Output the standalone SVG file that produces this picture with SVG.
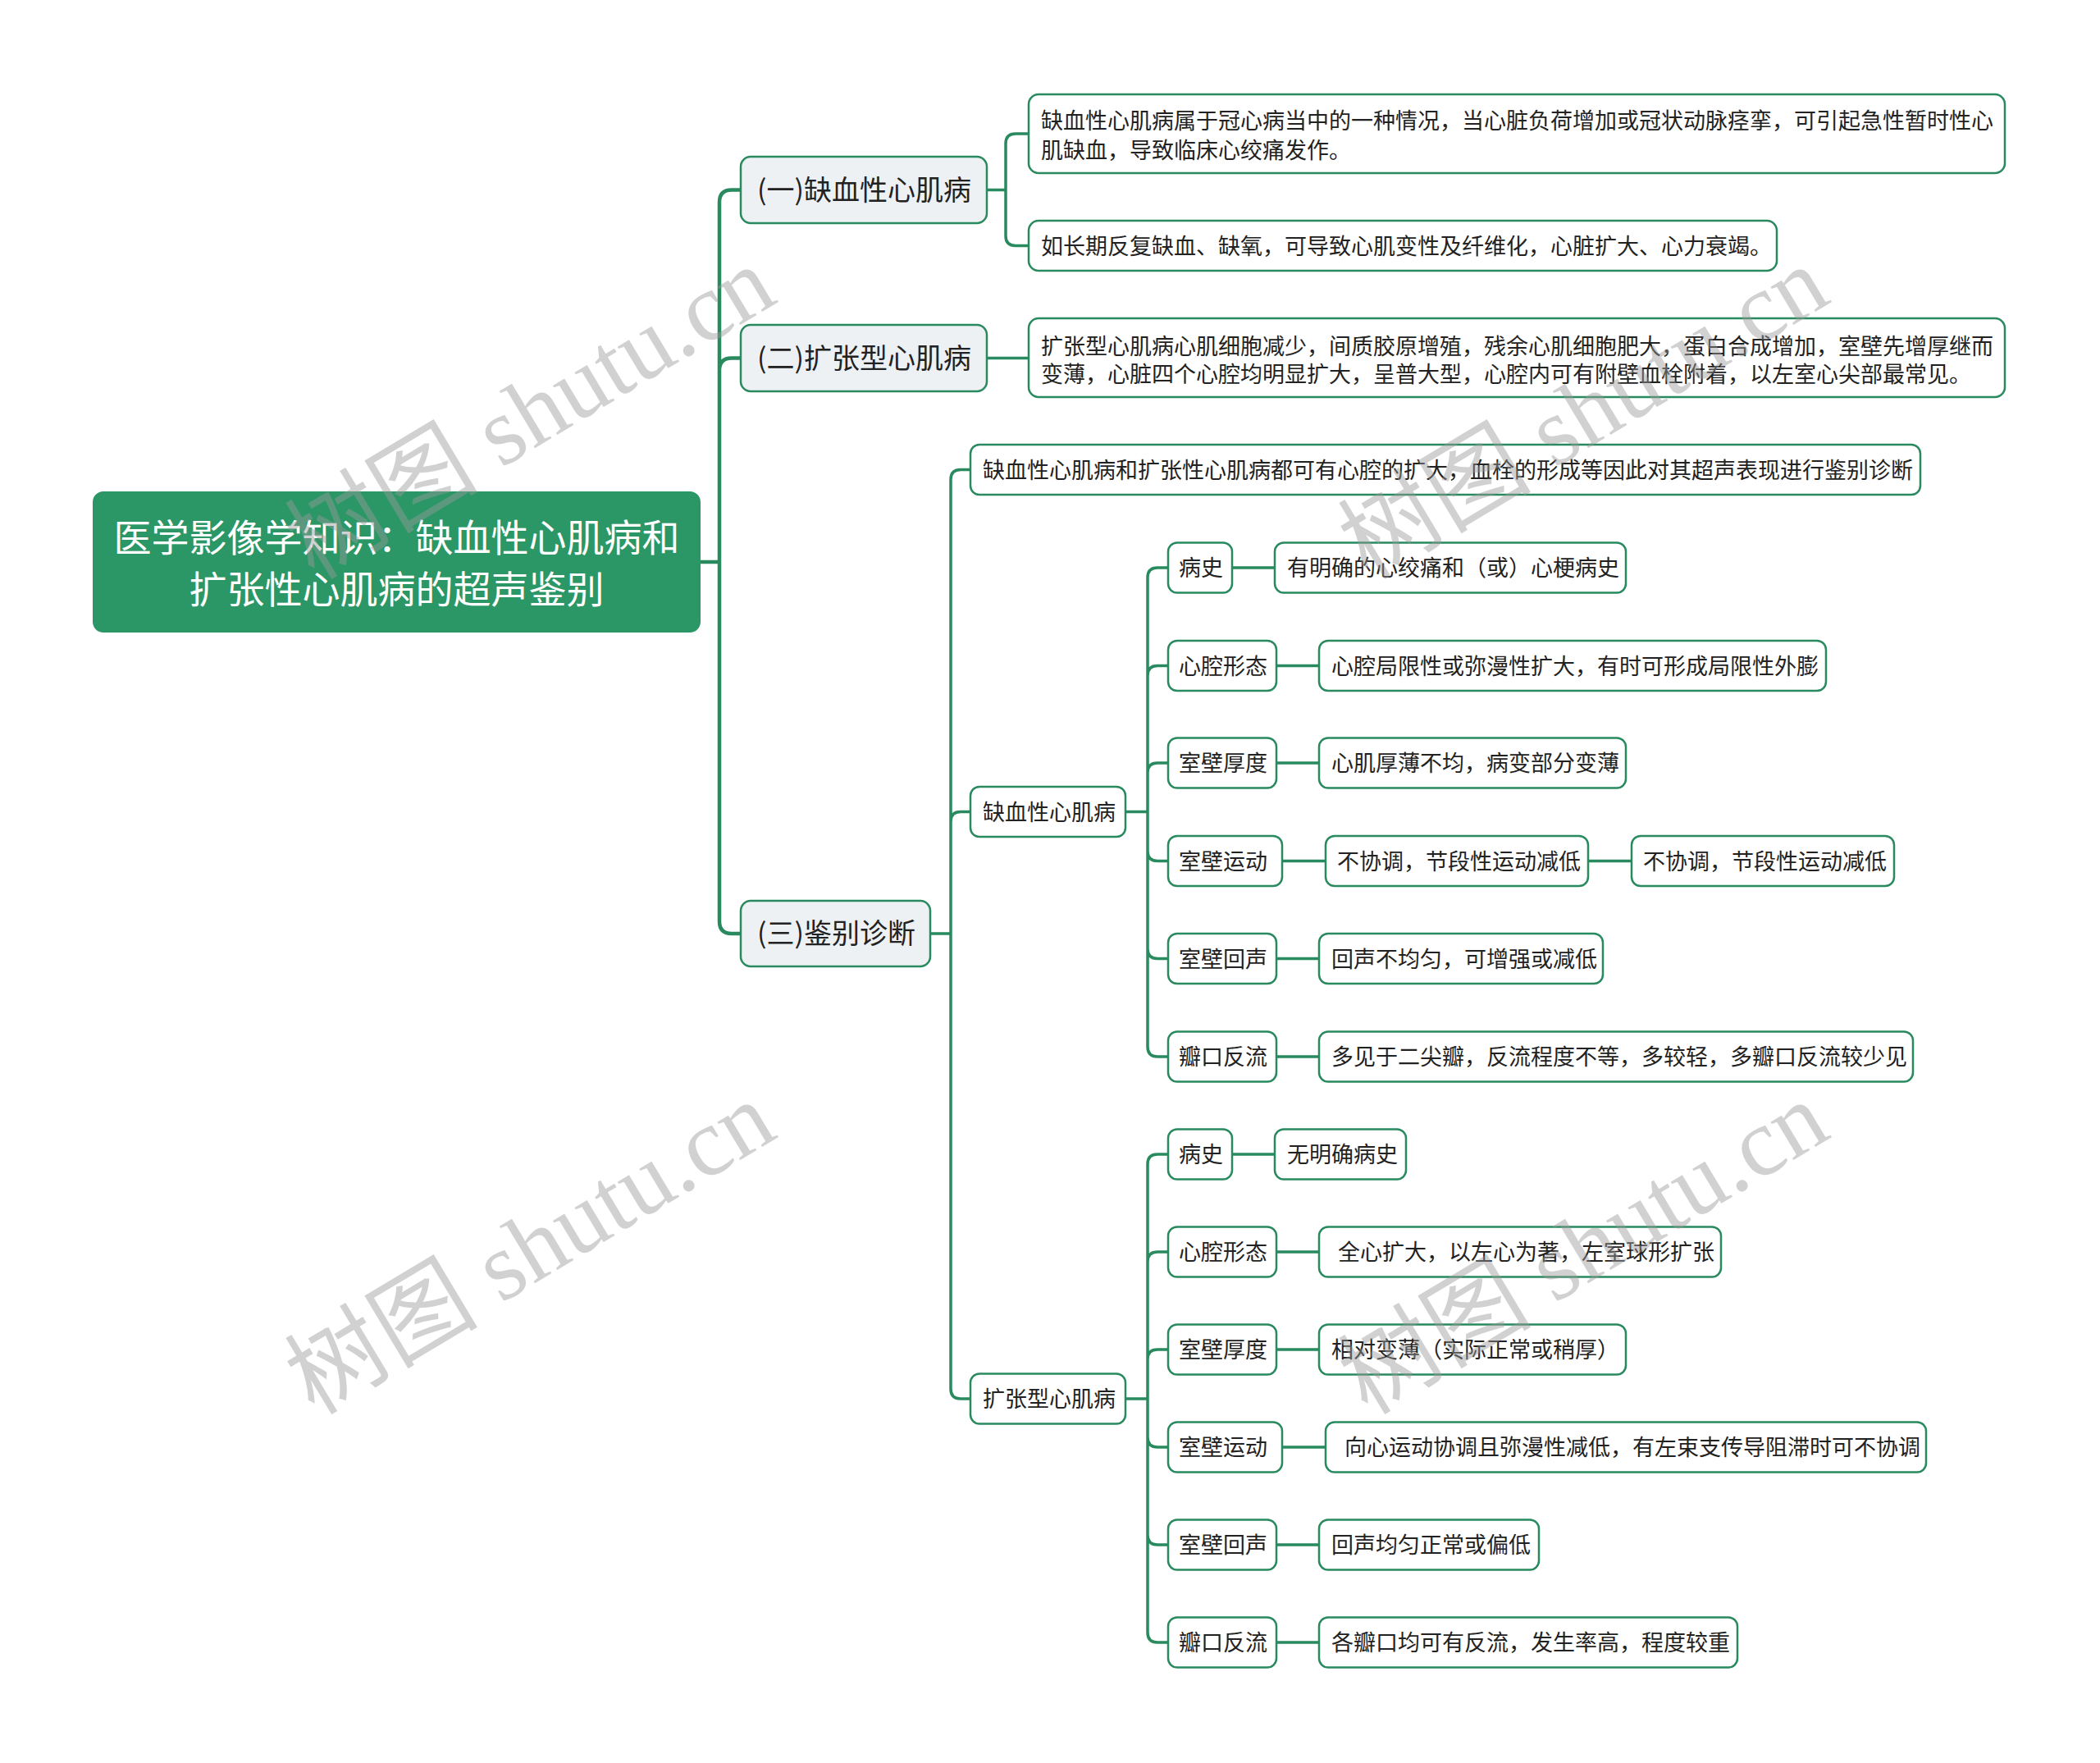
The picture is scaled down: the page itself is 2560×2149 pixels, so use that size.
<svg xmlns="http://www.w3.org/2000/svg" width="2560" height="2149" viewBox="0 0 2560 2149">
<style>
.bg{fill:#ffffff}
.ln{fill:none;stroke:#2a8a5f;stroke-width:3.5;stroke-linecap:round}
.trunk{fill:none;stroke:#2a8a5f;stroke-width:4.5;stroke-linecap:round}
.root{fill:#2b9766;stroke:#2b9766;stroke-width:2}
.l1{fill:#eef1f4;stroke:#2a8a5f;stroke-width:2.5}
.nd{fill:#ffffff;stroke:#2a8a5f;stroke-width:2.5}
.t{font-family:"Noto Sans CJK SC","Noto Sans",sans-serif;fill:#222222;font-size:27px}
.t1{font-family:"Noto Sans CJK SC","Noto Sans",sans-serif;fill:#222222;font-size:34px}
.tr{font-family:"Noto Sans CJK SC","Noto Sans",sans-serif;fill:#ffffff;font-size:46px}
.wm{font-family:"Liberation Serif","Noto Sans CJK SC",serif;font-size:118px;fill:#9a9a9a;fill-opacity:0.45}
</style>
<rect class="bg" x="0" y="0" width="2560" height="2149"/>

<g id="connectors">
<path class="trunk" d="M853,685 H877 M877,685 V246.5 Q877,231.5 892,231.5 H903 M877,685 V451.5 Q877,436.5 892,436.5 H903 M877,685 V1123 Q877,1138 892,1138 H903"/>
<path class="ln" d="M1203,231.5 H1226 M1226,231.5 V175 Q1226,163 1238,163 H1254 M1226,231.5 V287.5 Q1226,299.5 1238,299.5 H1254"/>
<path class="ln" d="M1203,436.5 H1254"/>
<path class="ln" d="M1134,1138 H1159 M1159,1138 V584.5 Q1159,572.5 1171,572.5 H1183 M1159,1138 V1001.5 Q1159,989.5 1171,989.5 H1183 M1159,1138 V1693 Q1159,1705 1171,1705 H1183"/>
<path class="ln" d="M1372,989.5 H1399 M1399,989.5 V704 Q1399,692 1411,692 H1424 M1399,989.5 V823.5 Q1399,811.5 1411,811.5 H1424 M1399,989.5 V942 Q1399,930 1411,930 H1424 M1399,989.5 V1037.5 Q1399,1049.5 1411,1049.5 H1424 M1399,989.5 V1156.5 Q1399,1168.5 1411,1168.5 H1424 M1399,989.5 V1276 Q1399,1288 1411,1288 H1424"/>
<path class="ln" d="M1502,692 H1554 M1556,811.5 H1608 M1556,930 H1608 M1563,1049.5 H1616 M1936,1049.5 H1989 M1556,1168.5 H1608 M1556,1288 H1608"/>
<path class="ln" d="M1372,1705 H1399 M1399,1705 V1419 Q1399,1407 1411,1407 H1424 M1399,1705 V1538 Q1399,1526 1411,1526 H1424 M1399,1705 V1657 Q1399,1645 1411,1645 H1424 M1399,1705 V1752 Q1399,1764 1411,1764 H1424 M1399,1705 V1871 Q1399,1883 1411,1883 H1424 M1399,1705 V1990 Q1399,2002 1411,2002 H1424"/>
<path class="ln" d="M1502,1407 H1554 M1556,1526 H1608 M1556,1645 H1608 M1563,1764 H1616 M1556,1883 H1608 M1556,2002 H1608"/>
</g>

<g id="root">
<rect class="root" x="114" y="600" width="739" height="170" rx="12"/>
<text class="tr" x="483.5" y="672" text-anchor="middle">医学影像学知识：缺血性心肌病和</text>
<text class="tr" x="483.5" y="735" text-anchor="middle">扩张性心肌病的超声鉴别</text>
</g>

<g id="n1">
<rect class="l1" x="903" y="191" width="300" height="81" rx="12"/>
<text class="t1" x="923" y="244">(一)缺血性心肌病</text>
</g>
<g id="n1a">
<rect class="nd" x="1254" y="115" width="1190" height="96" rx="12"/>
<text class="t" x="1269" y="157">缺血性心肌病属于冠心病当中的一种情况，当心脏负荷增加或冠状动脉痉挛，可引起急性暂时性心</text>
<text class="t" x="1269" y="193">肌缺血，导致临床心绞痛发作。</text>
</g>
<g id="n1b">
<rect class="nd" x="1254" y="269" width="912" height="61" rx="12"/>
<text class="t" x="1269" y="310">如长期反复缺血、缺氧，可导致心肌变性及纤维化，心脏扩大、心力衰竭。</text>
</g>

<g id="n2">
<rect class="l1" x="903" y="396" width="300" height="81" rx="12"/>
<text class="t1" x="923" y="449">(二)扩张型心肌病</text>
</g>
<g id="n2a">
<rect class="nd" x="1254" y="388" width="1190" height="96" rx="12"/>
<text class="t" x="1269" y="432">扩张型心肌病心肌细胞减少，间质胶原增殖，残余心肌细胞肥大，蛋白合成增加，室壁先增厚继而</text>
<text class="t" x="1269" y="466">变薄，心脏四个心腔均明显扩大，呈普大型，心腔内可有附壁血栓附着，以左室心尖部最常见。</text>
</g>

<g id="n3">
<rect class="l1" x="903" y="1098" width="231" height="80" rx="12"/>
<text class="t1" x="923" y="1150">(三)鉴别诊断</text>
</g>
<g id="n3a">
<rect class="nd" x="1183" y="542" width="1158" height="61" rx="11"/>
<text class="t" x="1198" y="583">缺血性心肌病和扩张性心肌病都可有心腔的扩大，血栓的形成等因此对其超声表现进行鉴别诊断</text>
</g>

<g id="n3b">
<rect class="nd" x="1183" y="959" width="189" height="61" rx="11"/>
<text class="t" x="1198" y="1000">缺血性心肌病</text>
</g>
<g id="b1"><rect class="nd" x="1424" y="661.5" width="78" height="61" rx="11"/><text class="t" x="1437" y="702">病史</text></g>
<g id="b1a"><rect class="nd" x="1554" y="661.5" width="428" height="61" rx="11"/><text class="t" x="1569" y="702">有明确的心绞痛和（或）心梗病史</text></g>
<g id="b2"><rect class="nd" x="1424" y="781" width="132" height="61" rx="11"/><text class="t" x="1437" y="821.5">心腔形态</text></g>
<g id="b2a"><rect class="nd" x="1608" y="781" width="618" height="61" rx="11"/><text class="t" x="1623" y="821.5">心腔局限性或弥漫性扩大，有时可形成局限性外膨</text></g>
<g id="b3"><rect class="nd" x="1424" y="899.5" width="132" height="61" rx="11"/><text class="t" x="1437" y="940">室壁厚度</text></g>
<g id="b3a"><rect class="nd" x="1608" y="899.5" width="374" height="61" rx="11"/><text class="t" x="1623" y="940">心肌厚薄不均，病变部分变薄</text></g>
<g id="b4"><rect class="nd" x="1424" y="1019" width="139" height="61" rx="11"/><text class="t" x="1437" y="1059.5">室壁运动</text></g>
<g id="b4a"><rect class="nd" x="1616" y="1019" width="320" height="61" rx="11"/><text class="t" x="1630" y="1059.5">不协调，节段性运动减低</text></g>
<g id="b4b"><rect class="nd" x="1989" y="1019" width="320" height="61" rx="11"/><text class="t" x="2003" y="1059.5">不协调，节段性运动减低</text></g>
<g id="b5"><rect class="nd" x="1424" y="1138" width="132" height="61" rx="11"/><text class="t" x="1437" y="1178.5">室壁回声</text></g>
<g id="b5a"><rect class="nd" x="1608" y="1138" width="346" height="61" rx="11"/><text class="t" x="1623" y="1178.5">回声不均匀，可增强或减低</text></g>
<g id="b6"><rect class="nd" x="1424" y="1257.5" width="132" height="61" rx="11"/><text class="t" x="1437" y="1298">瓣口反流</text></g>
<g id="b6a"><rect class="nd" x="1608" y="1257.5" width="724" height="61" rx="11"/><text class="t" x="1623" y="1298">多见于二尖瓣，反流程度不等，多较轻，多瓣口反流较少见</text></g>

<g id="n3c">
<rect class="nd" x="1183" y="1674.5" width="189" height="61" rx="11"/>
<text class="t" x="1198" y="1715">扩张型心肌病</text>
</g>
<g id="c1"><rect class="nd" x="1424" y="1376.5" width="78" height="61" rx="11"/><text class="t" x="1437" y="1417">病史</text></g>
<g id="c1a"><rect class="nd" x="1554" y="1376.5" width="160" height="61" rx="11"/><text class="t" x="1569" y="1417">无明确病史</text></g>
<g id="c2"><rect class="nd" x="1424" y="1495.5" width="132" height="61" rx="11"/><text class="t" x="1437" y="1536">心腔形态</text></g>
<g id="c2a"><rect class="nd" x="1608" y="1495.5" width="490" height="61" rx="11"/><text class="t" x="1631" y="1536">全心扩大，以左心为著，左室球形扩张</text></g>
<g id="c3"><rect class="nd" x="1424" y="1614.5" width="132" height="61" rx="11"/><text class="t" x="1437" y="1655">室壁厚度</text></g>
<g id="c3a"><rect class="nd" x="1608" y="1614.5" width="374" height="61" rx="11"/><text class="t" x="1623" y="1655">相对变薄（实际正常或稍厚）</text></g>
<g id="c4"><rect class="nd" x="1424" y="1733.5" width="139" height="61" rx="11"/><text class="t" x="1437" y="1774">室壁运动</text></g>
<g id="c4a"><rect class="nd" x="1616" y="1733.5" width="732" height="61" rx="11"/><text class="t" x="1639" y="1774">向心运动协调且弥漫性减低，有左束支传导阻滞时可不协调</text></g>
<g id="c5"><rect class="nd" x="1424" y="1852.5" width="132" height="61" rx="11"/><text class="t" x="1437" y="1893">室壁回声</text></g>
<g id="c5a"><rect class="nd" x="1608" y="1852.5" width="268" height="61" rx="11"/><text class="t" x="1623" y="1893">回声均匀正常或偏低</text></g>
<g id="c6"><rect class="nd" x="1424" y="1971.5" width="132" height="61" rx="11"/><text class="t" x="1437" y="2012">瓣口反流</text></g>
<g id="c6a"><rect class="nd" x="1608" y="1971.5" width="510" height="61" rx="11"/><text class="t" x="1623" y="2012">各瓣口均可有反流，发生率高，程度较重</text></g>

<g id="watermarks">
<text class="wm" x="383" y="708" transform="rotate(-31 383 708)">树图 shutu.cn</text>
<text class="wm" x="1667" y="708" transform="rotate(-31 1667 708)">树图 shutu.cn</text>
<text class="wm" x="383" y="1726" transform="rotate(-31 383 1726)">树图 shutu.cn</text>
<text class="wm" x="1667" y="1726" transform="rotate(-31 1667 1726)">树图 shutu.cn</text>
</g>
</svg>
